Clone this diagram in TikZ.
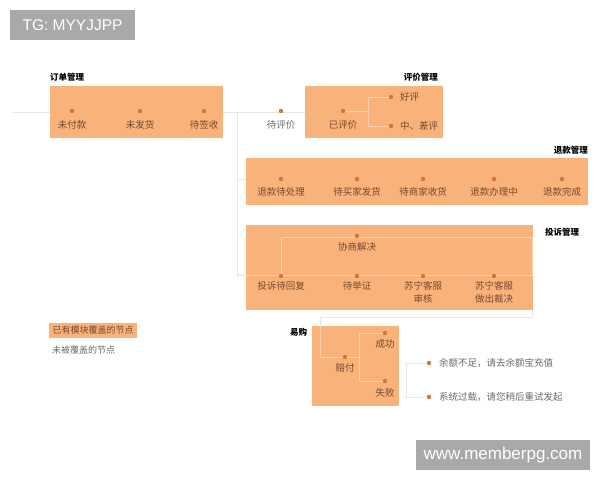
\documentclass[tikz,border=0pt]{standalone}
\usepackage{fontspec}
\setmainfont{Noto Sans CJK SC}
\newfontfamily\wmfont{Liberation Sans}
\definecolor{boxc}{HTML}{F9B27A}
\definecolor{dotc}{HTML}{D27536}
\definecolor{intxt}{HTML}{77492E}
\definecolor{outtxt}{HTML}{6A6A6A}
\definecolor{lnc}{HTML}{E6E6E6}
\definecolor{inlnc}{HTML}{FCD2AC}
\definecolor{wmc}{HTML}{A9A9A9}
\begin{document}
\begin{tikzpicture}[x=1pt,y=-1pt,
  panel/.style={fill=boxc, draw=none},
  dotn/.style={circle, fill=dotc, inner sep=0pt, minimum size=4.4pt},
  intext/.style={font=\fontsize{9.5}{13}\selectfont, text=intxt, inner sep=0pt, align=center},
  outtext/.style={font=\fontsize{9.5}{13}\selectfont, text=outtxt, inner sep=0pt, align=center},
  ttl/.style={font=\bfseries\fontsize{8.5}{10}\selectfont, text=black, inner sep=0pt},
  gl/.style={draw=lnc, line width=0.9pt},
  il/.style={draw=inlnc, line width=0.9pt},
  wmbox/.style={fill=wmc, text=white, inner sep=0pt, font=\wmfont}]
\useasboundingbox (0,0) rectangle (600,480);

% watermarks
\node[wmbox, minimum width=125pt, minimum height=30pt, font=\wmfont\fontsize{15.5}{18}\selectfont] (wm1) at (72.5,25) {TG: MYYJJPP};
\node[wmbox, minimum width=174pt, minimum height=30pt, font=\wmfont\fontsize{17}{20}\selectfont] (wm2) at (503,455) {www.memberpg.com};

% grey connector lines (under panels)
\coordinate (startL) at (12,112);
\coordinate (trunkTop) at (237,112);
\coordinate (trunkRef) at (237,179);
\coordinate (trunkCmp) at (237,275);
\coordinate (refL) at (246,179);
\coordinate (cmpL) at (246,275);
\coordinate (rateIn) at (343,112);
\draw[gl] (startL) -- (rateIn);
\draw[gl] (trunkTop) -- (trunkCmp);
\draw[gl] (trunkRef) -- (refL);
\draw[gl] (trunkCmp) -- (cmpL);
\coordinate (cmpR) at (532,306);
\coordinate (cmpRb) at (532,317);
\coordinate (ygTop) at (320,317);
\coordinate (ygIn) at (320,330);
\draw[gl] (cmpR) -- (cmpRb) -- (ygTop) -- (ygIn);

% panels
\fill[panel] (50,86) rectangle (223,138);
\fill[panel] (305,86) rectangle (443,138);
\fill[panel] (246,158) rectangle (588,205);
\fill[panel] (246,225) rectangle (533,310);
\fill[panel] (312,326) rectangle (399,406);
\fill[panel] (49,323) rectangle (137,338);

% titles
\node[ttl, anchor=west] (t1) at (50,77) {订单管理};
\node[ttl, anchor=east] (t2) at (438,77) {评价管理};
\node[ttl, anchor=east] (t3) at (588,150) {退款管理};
\node[ttl, anchor=west] (t4) at (545,232) {投诉管理};
\node[ttl, anchor=west] (t5) at (290,332) {易购};

% order management
\node[dotn] (o1) at (72,111) {};
\node[dotn] (o2) at (140,111) {};
\node[dotn] (o3) at (204,111) {};
\node[intext] (o1t) at (72,125) {未付款};
\node[intext] (o2t) at (140,125) {未发货};
\node[intext] (o3t) at (204,125) {待签收};

% rating
\node[dotn] (r0) at (281,111) {};
\node[outtext] (r0t) at (281,125) {待评价};
\node[dotn] (r1) at (343,111) {};
\node[intext] (r1t) at (343,125) {已评价};
\coordinate (rb) at (368,111);
\coordinate (rbt) at (368,97);
\coordinate (rbb) at (368,126);
\node[dotn] (r2) at (391,97) {};
\node[dotn] (r3) at (391,126) {};
\draw[il] (r1) -- (rb) (rbt) -- (rbb) (rbt) -- (r2) (rbb) -- (r3);
\node[intext, anchor=west] (r2t) at (400,97) {好评};
\node[intext, anchor=west] (r3t) at (400,126) {中、差评};

% refund
\foreach \n/\x/\t in {f1/281/退款待处理, f2/357/待买家发货, f3/423/待商家收货, f4/494/退款办理中, f5/562/退款完成}{
  \node[dotn] (\n) at (\x,179) {};
  \node[intext] (\n t) at (\x,192) {\t};
}

% complaint
\coordinate (cl) at (246,275);
\coordinate (cr) at (532,275);
\coordinate (ctl) at (281,237);
\coordinate (ctr) at (532,237);
\draw[il] (cl) -- (cr) -- (ctr) -- (ctl) -- (281,275);
\node[dotn] (c0) at (357,236) {};
\node[intext] (c0t) at (357,247) {协商解决};
\node[dotn] (c1) at (281,276) {};
\node[dotn] (c2) at (357,276) {};
\node[dotn] (c3) at (423,276) {};
\node[dotn] (c4) at (494,276) {};
\node[intext, anchor=north] (c1t) at (281,281) {投诉待回复};
\node[intext, anchor=north] (c2t) at (357,281) {待举证};
\node[intext, anchor=north] (c3t) at (423,281) {苏宁客服\\审核};
\node[intext, anchor=north] (c4t) at (494,281) {苏宁客服\\做出裁决};

% yigou
\coordinate (yl) at (320,326);
\coordinate (ylb) at (320,357);
\coordinate (ym) at (359,357);
\coordinate (ymt) at (359,333);
\coordinate (ymb) at (359,381);
\draw[il] (yl) -- (ylb) -- (ym);
\node[dotn] (y0) at (345,357) {};
\node[dotn] (y1) at (385,333) {};
\node[dotn] (y2) at (385,381) {};
\draw[il] (ymt) -- (ymb) (ymt) -- (y1) (ymb) -- (y2);
\node[intext] (y0t) at (345,368) {赔付};
\node[intext] (y1t) at (385,344) {成功};
\node[intext] (y2t) at (385,393) {失败};

% failure reasons
\coordinate (bt) at (406,363);
\coordinate (bb) at (406,397);
\node[dotn] (e1) at (429,363) {};
\node[dotn] (e2) at (429,397) {};
\draw[gl] (e1) -- (bt) -- (bb) -- (e2);
\node[outtext, anchor=west] (e1t) at (439,363) {余额不足，请去余额宝充值};
\node[outtext, anchor=west] (e2t) at (439,397) {系统过载，请您稍后重试发起};

% legend
\node[intext, font=\fontsize{9}{11}\selectfont] (lg1) at (93,330.5) {已有模块覆盖的节点};
\node[outtext, anchor=west, font=\fontsize{9}{11}\selectfont] (lg2) at (52,350) {未被覆盖的节点};
\end{tikzpicture}
\end{document}
